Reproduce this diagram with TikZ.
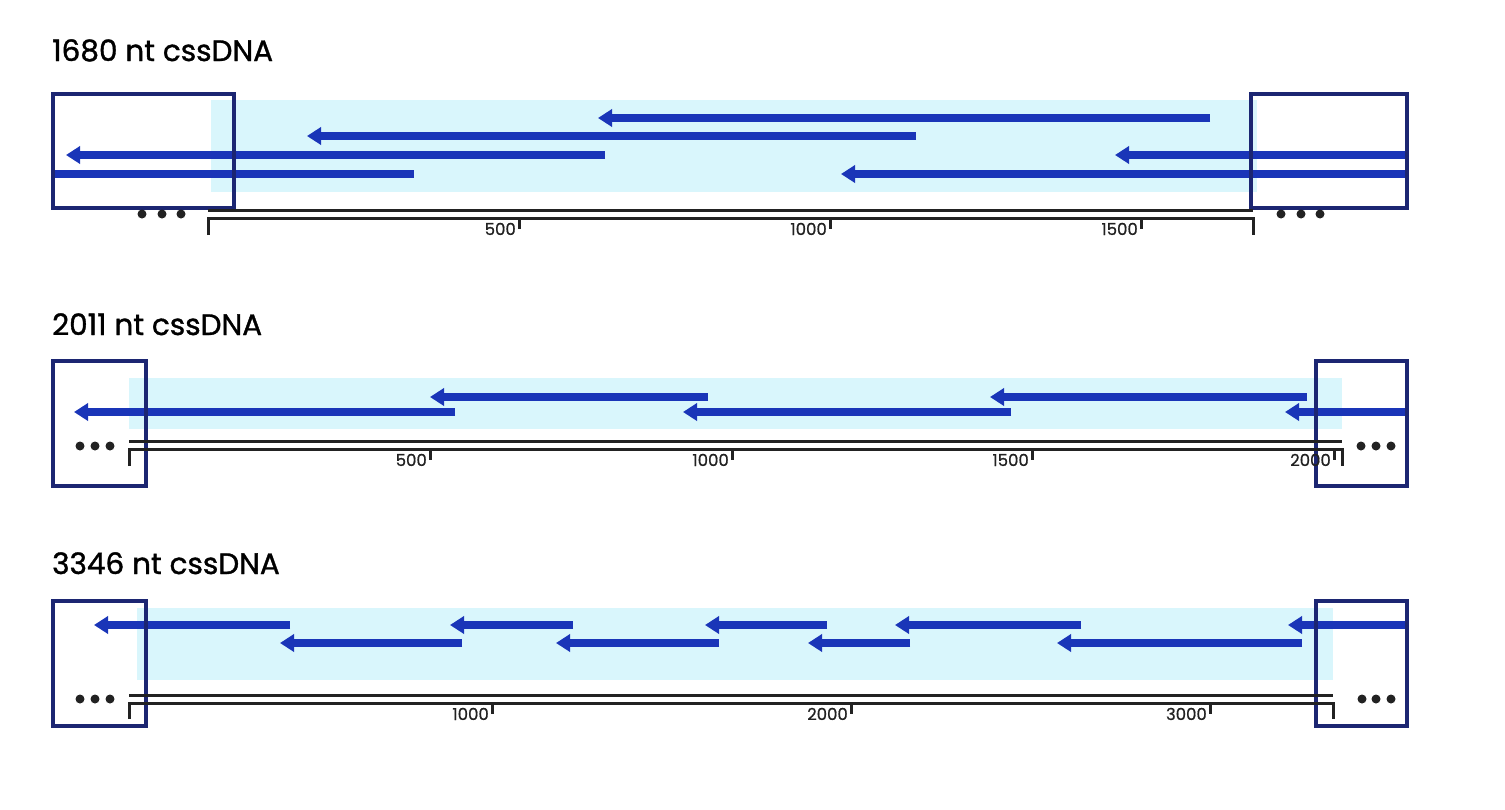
\documentclass[tikz,border=0pt]{standalone}
\usepackage{fontspec}
\setmainfont{Poppins}
\newfontfamily\titlefont{Poppins}[FakeBold=1.2]
\newfontfamily\lblfont{Poppins}[FakeBold=0.8]
\usetikzlibrary{arrows.meta}
\definecolor{strand}{HTML}{1A35B8}
\definecolor{navy}{HTML}{1C2672}
\definecolor{band}{HTML}{D9F6FC}
\definecolor{ink}{HTML}{222222}
\tikzset{
  seg/.style={draw=strand, line width=8pt},
  seghead/.style={draw=strand, line width=8pt, -{Triangle[length=14pt,width=17pt]}},
  endbox/.style={draw=navy, line width=3.1pt},
  bandbox/.style={fill=band, draw=none},
  rule/.style={draw=ink, line width=3pt},
  ticklbl/.style={font=\lblfont\fontsize{16.5}{16.5}\selectfont, anchor=base east, inner sep=0pt, text=ink},
  title/.style={font=\titlefont\fontsize{29.5}{29.5}\selectfont, anchor=base west, inner sep=0pt},
  dot/.style={fill=ink, draw=none}
}
\begin{document}
\begin{tikzpicture}[x=1pt,y=-1pt]
\useasboundingbox (0,0) rectangle (1505,809);
% ===================== Panel 1 =====================
\node[title] (t1) at (52,61) {1680 nt cssDNA};
\fill[bandbox] (211,100) rectangle (1257,192);
\draw[seghead] (1210,118) -- (598,118);
\draw[seghead] (916,136) -- (307,136);
\draw[seghead] (605,155) -- (66,155);
\draw[seghead] (1407,155) -- (1115,155);
\draw[seg] (53,174) -- (414,174);
\draw[seghead] (1407,174) -- (841,174);
\draw[endbox] (53,94) rectangle (234,208);
\draw[endbox] (1251,94) rectangle (1407,208);
\foreach \x in {142,162,181} \fill[dot] (\x,214) circle (4.5);
\foreach \x in {1281,1301,1320} \fill[dot] (\x,214) circle (4.5);
\draw[rule] (208,210) -- (1253,210);
\draw[rule] (208,235) -- (208,218) -- (1253,218) -- (1253,235);
\foreach \x/\l in {519/500,830/1000,1141/1500}{
  \draw[rule] (\x,218) -- (\x,229);
  \node[ticklbl] at (\x-3,235) {\l};
}
% ===================== Panel 2 =====================
\node[title] (t2) at (52,335) {2011 nt cssDNA};
\fill[bandbox] (129,378) rectangle (1342,429);
\draw[seghead] (708,397) -- (430,397);
\draw[seghead] (1307,397) -- (990,397);
\draw[seghead] (455,412) -- (74,412);
\draw[seghead] (1011,412) -- (683,412);
\draw[seghead] (1407,412) -- (1285,412);
\draw[endbox] (53,361) rectangle (146,486);
\draw[endbox] (1316,361) rectangle (1407,486);
\foreach \x in {80,95,110} \fill[dot] (\x,446) circle (4.5);
\foreach \x in {1361,1376,1391} \fill[dot] (\x,446) circle (4.5);
\draw[rule] (129,441) -- (1342,441);
\draw[rule] (129,466) -- (129,449) -- (1342,449) -- (1342,466);
\foreach \x/\l in {430/500,732/1000,1032/1500,1334/2000}{
  \draw[rule] (\x,449) -- (\x,460);
  \node[ticklbl] at (\x-3,466) {\l};
}
% ===================== Panel 3 =====================
\node[title] (t3) at (52,574) {3346 nt cssDNA};
\fill[bandbox] (137,608) rectangle (1333,680);
\draw[seghead] (290,625) -- (94,625);
\draw[seghead] (573,625) -- (450,625);
\draw[seghead] (827,625) -- (705,625);
\draw[seghead] (1081,625) -- (895,625);
\draw[seghead] (1407,625) -- (1288,625);
\draw[seghead] (462,643) -- (280,643);
\draw[seghead] (719,643) -- (556,643);
\draw[seghead] (910,643) -- (808,643);
\draw[seghead] (1302,643) -- (1057,643);
\draw[endbox] (53,601) rectangle (146,726);
\draw[endbox] (1316,601) rectangle (1407,726);
\foreach \x in {80,95,110} \fill[dot] (\x,699) circle (4.5);
\foreach \x in {1362,1376,1391} \fill[dot] (\x,699) circle (4.5);
\draw[rule] (129,695) -- (1333,695);
\draw[rule] (129,719) -- (129,703) -- (1333,703) -- (1333,719);
\foreach \x/\l in {492/1000,851/2000,1210/3000}{
  \draw[rule] (\x,703) -- (\x,714);
  \node[ticklbl] at (\x-3,720) {\l};
}
\end{tikzpicture}
\end{document}
